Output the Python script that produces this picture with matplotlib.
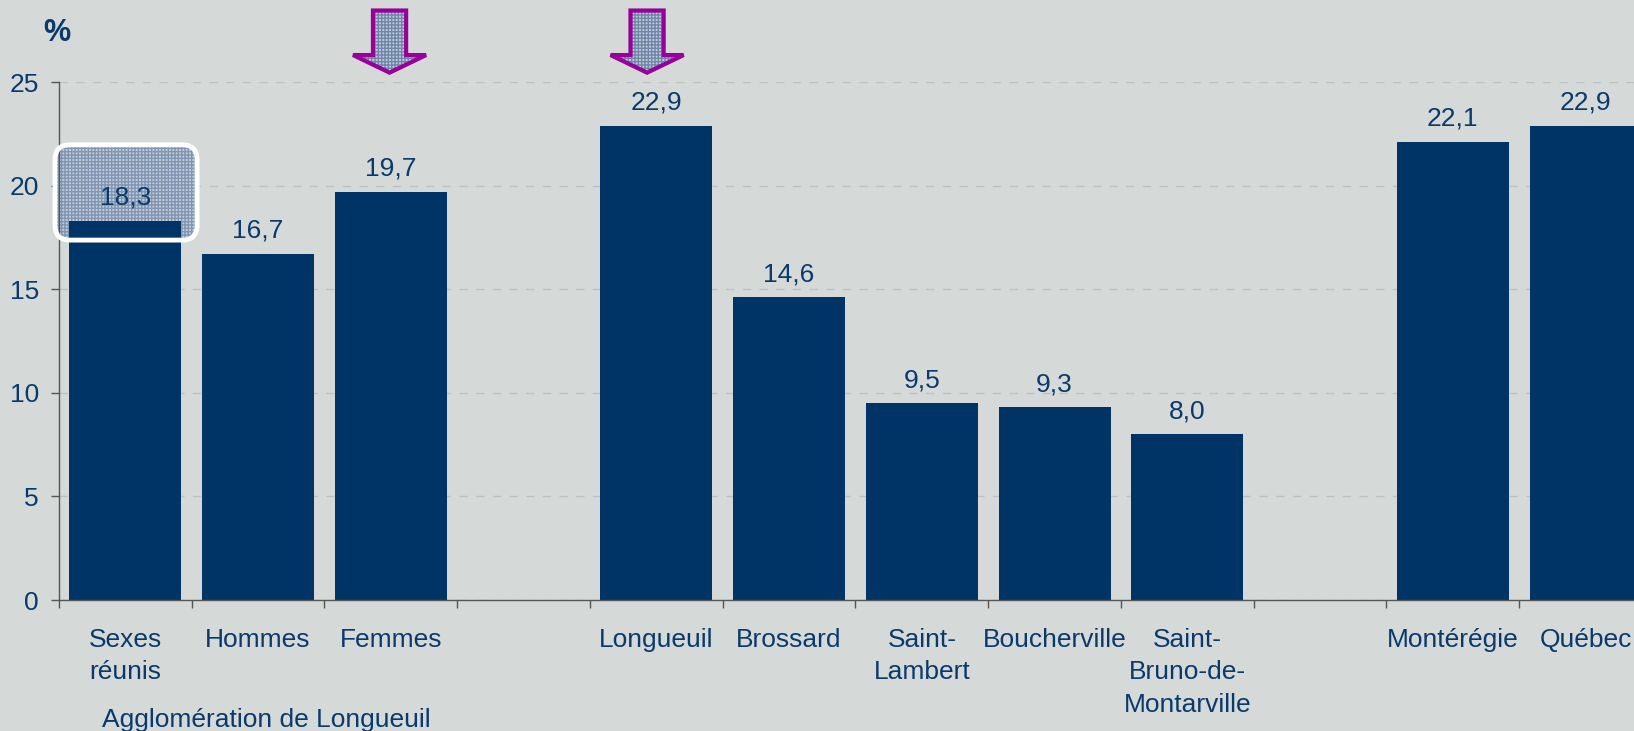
import matplotlib
matplotlib.use("Agg")
import matplotlib.pyplot as plt
import numpy as np
from matplotlib.patches import FancyBboxPatch, Polygon
from matplotlib.transforms import IdentityTransform

plt.rcParams['font.family'] = ['Liberation Sans', 'DejaVu Sans']
plt.rcParams['hatch.linewidth'] = 1.0

# ---- data ----
categories = ["Sexes\nréunis", "Hommes", "Femmes", "",
              "Longueuil", "Brossard", "Saint-\nLambert", "Boucherville",
              "Saint-\nBruno-de-\nMontarville", "",
              "Montérégie", "Québec"]
values = [18.3, 16.7, 19.7, np.nan,
          22.9, 14.6, 9.5, 9.3, 8.0, np.nan,
          22.1, 22.9]
yticks = [0, 5, 10, 15, 20, 25]
group_label = "Agglomération de Longueuil"
arrow_categories = ["Femmes", "Longueuil"]
highlight_category = "Sexes\nréunis"

BG = "#D5DAD9"
NAVY = "#003366"
TXT = "#0A3A6B"
PURPLE = "#990099"

W, H = 1634, 731
fig = plt.figure(figsize=(W / 100, H / 100), dpi=100, facecolor=BG)
ax = fig.add_axes([59 / W, 131 / H, 1593 / W, 518 / H])
ax.set_facecolor(BG)

x = np.arange(len(categories))
ax.bar(x, values, width=0.845, color=NAVY, linewidth=0, zorder=3)

ax.set_xlim(-0.5, len(categories) - 0.5)
ax.set_ylim(0, 25)

# grid
ax.set_yticks(yticks)
ax.yaxis.grid(True, linestyle=(0, (6, 6)), color="#BCC2C2", linewidth=1.0, zorder=0)
ax.set_axisbelow(True)

for s in ["top", "right"]:
    ax.spines[s].set_visible(False)
for s in ["left", "bottom"]:
    ax.spines[s].set_color("#555555")
    ax.spines[s].set_linewidth(1.0)
    ax.spines[s].set_zorder(4)

ax.tick_params(axis="y", direction="out", length=5.5, width=1, color="#555555",
               labelsize=19, labelcolor=TXT, pad=9)
ax.set_xticks(x)
ax.set_xticklabels(categories, fontsize=19, color=TXT, linespacing=1.45)
ax.set_xticks(np.arange(-0.5, len(categories)), minor=True)
ax.tick_params(axis="x", which="major", length=0, pad=20)
ax.tick_params(axis="x", which="minor", direction="out", length=6, width=1, color="#555555")

# value labels
for xi, v in zip(x, values):
    if np.isnan(v):
        continue
    ax.annotate(f"{v:.1f}".replace(".", ","), (xi, v), xytext=(0, 8),
                textcoords="offset points", ha="center", va="bottom",
                fontsize=19, color=TXT, zorder=6)

# % label
fig.text(57 / W, 1 - 33 / H, "%", fontsize=22, fontweight="bold", color=TXT,
         ha="center", va="center")

# group label
fig.text(266 / W, 1 - 727 / H, group_label, fontsize=19, color=TXT,
         ha="center", va="baseline")

# highlight box around first bar top (pixel space for true rounded corners)
hi = categories.index(highlight_category)
(x0, y0), (x1, y1) = ax.transData.transform([(hi - 0.53, 17.37), (hi + 0.54, 21.97)])
fill = FancyBboxPatch((x0, y0), x1 - x0, y1 - y0,
                      boxstyle="round,pad=0,rounding_size=15",
                      transform=IdentityTransform(), facecolor="#C4CEDA",
                      edgecolor="#7F95B2", hatch="+++++", linewidth=0,
                      zorder=2, clip_on=False)
ax.add_patch(fill)
border = FancyBboxPatch((x0, y0), x1 - x0, y1 - y0,
                        boxstyle="round,pad=0,rounding_size=15",
                        transform=IdentityTransform(), fill=False,
                        edgecolor="white", linewidth=3.5, zorder=5, clip_on=False)
ax.add_patch(border)

# arrows above selected bars
arrow_offsets = [-0.01, -0.07]
for cat, off in zip(arrow_categories, arrow_offsets):
    c = categories.index(cat) + off
    pts = [(c - 0.125, 28.45), (c + 0.125, 28.45), (c + 0.125, 26.3),
           (c + 0.275, 26.3), (c, 25.45), (c - 0.275, 26.3), (c - 0.125, 26.3)]
    pf = Polygon(pts, closed=True, facecolor="#C0CAD8", edgecolor="#6F86A8",
                 hatch="+++++", linewidth=0, clip_on=False, zorder=6)
    ax.add_patch(pf)
    pb = Polygon(pts, closed=True, fill=False, edgecolor=PURPLE,
                 linewidth=3, clip_on=False, zorder=7, joinstyle="miter")
    ax.add_patch(pb)

fig.savefig("out.png", dpi=100, facecolor=BG)
